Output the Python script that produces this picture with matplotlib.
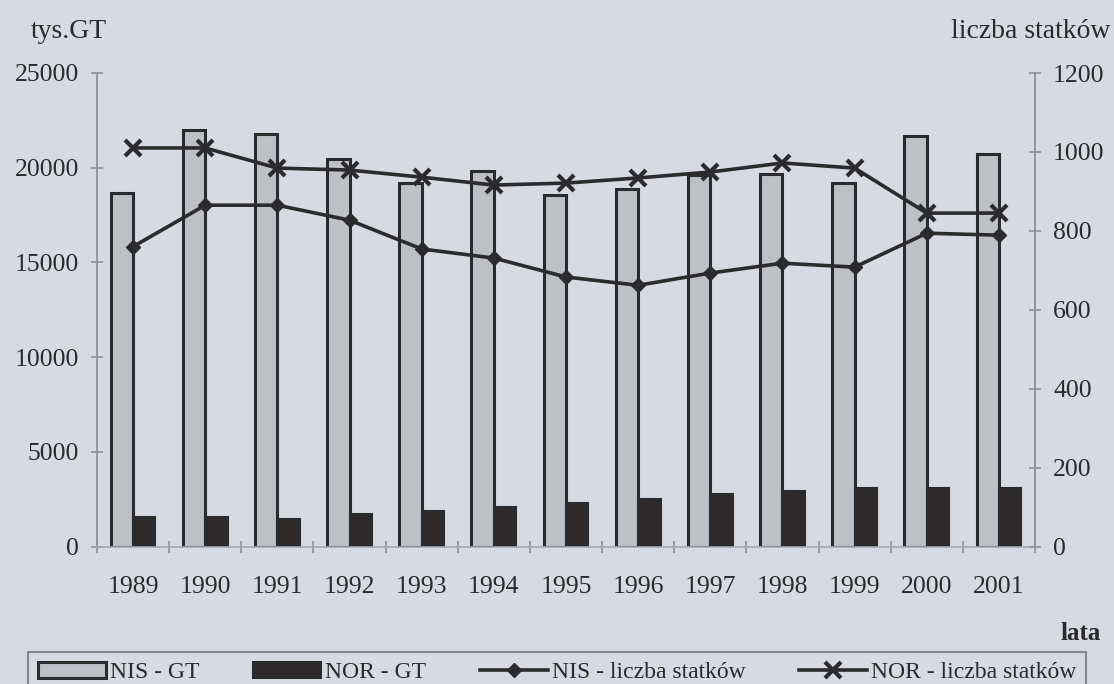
import matplotlib
matplotlib.use("Agg")
import matplotlib.pyplot as plt
import numpy as np
from matplotlib.ticker import FixedLocator

# ---- data ----
years = ["1989", "1990", "1991", "1992", "1993", "1994", "1995", "1996",
         "1997", "1998", "1999", "2000", "2001"]
nis_gt = [18650, 22000, 21800, 20450, 19200, 19800, 18550, 18900,
          19600, 19650, 19200, 21700, 20700]
nor_gt = [1550, 1550, 1450, 1700, 1900, 2100, 2300, 2500,
          2750, 2950, 3100, 3100, 3100]
nis_count = [760, 865, 865, 827, 754, 731, 683, 662, 693, 718, 708, 794, 789]
nor_count = [1010, 1010, 959, 954, 936, 916, 921, 934, 949, 972, 959, 845, 845]

left_ticks = [0, 5000, 10000, 15000, 20000, 25000]
right_ticks = [0, 200, 400, 600, 800, 1000, 1200]

labels = ["NIS - GT", "NOR - GT", "NIS - liczba statków", "NOR - liczba statków"]

# ---- style ----
BG = "#d7dbe1"
INK = "#2b2a2c"
AXC = "#8d9197"
plt.rcParams["font.family"] = ["Liberation Serif", "DejaVu Serif"]

W, H = 1114, 684
fig = plt.figure(figsize=(W / 100, H / 100), dpi=100, facecolor=BG)
ax = fig.add_axes([97 / W, 1 - 546.5 / H, (1035 - 97) / W, (546.5 - 73) / H])
ax.set_facecolor(BG)

x = np.arange(len(years))
bw = 0.31
b1 = ax.bar(x - bw / 2, nis_gt, width=bw, color="#bdc1c5", edgecolor=INK,
            linewidth=2.2, label=labels[0], zorder=2)
b2 = ax.bar(x + bw / 2, nor_gt, width=bw, color="#2e2a2b", edgecolor=INK,
            linewidth=1.5, label=labels[1], zorder=2)

ax.set_xlim(-0.5, len(years) - 0.5)
ax.set_ylim(0, 25000)
ax.set_yticks(left_ticks)
ax.set_yticklabels([str(v) for v in left_ticks])
ax.set_xticks(x)
ax.set_xticklabels(years)
ax.xaxis.set_minor_locator(FixedLocator(np.arange(-0.5, len(years), 1.0)))
ax.tick_params(axis="x", which="major", length=0, pad=21, labelsize=18.5,
               labelcolor=INK)
ax.tick_params(axis="x", which="minor", length=9, direction="inout",
               color=AXC, width=1.2)
ax.tick_params(axis="y", length=8, direction="inout", color=AXC, width=1.2,
               pad=9, labelsize=18.5, labelcolor=INK)

for s in ["top", "right"]:
    ax.spines[s].set_visible(False)
ax.spines["left"].set_color(AXC)
ax.spines["left"].set_linewidth(1.3)
ax.spines["bottom"].set_color("#a4a8ae")
ax.spines["bottom"].set_linewidth(1.2)

ax2 = ax.twinx()
ax2.patch.set_visible(False)
l1, = ax2.plot(x, nis_count, color=INK, linewidth=2.6, marker="D",
               markersize=7.5, markerfacecolor=INK, markeredgecolor=INK,
               label=labels[2], zorder=3)
l2, = ax2.plot(x, nor_count, color=INK, linewidth=2.6, marker="x",
               markersize=12, markeredgewidth=3, label=labels[3], zorder=3)
ax2.set_ylim(0, 1200)
ax2.set_yticks(right_ticks)
ax2.set_yticklabels([str(v) for v in right_ticks])
ax2.tick_params(axis="y", length=8, direction="inout", color=AXC, width=1.2,
                pad=9, labelsize=18.5, labelcolor=INK)
for s in ["top", "left", "bottom"]:
    ax2.spines[s].set_visible(False)
ax2.spines["right"].set_color(AXC)
ax2.spines["right"].set_linewidth(1.3)

# axis titles
fig.text(69 / W, 1 - 32 / H, "tys.GT", ha="center", va="center",
         fontsize=20, color=INK)
fig.text(1110 / W, 1 - 31 / H, "liczba statków", ha="right", va="center",
         fontsize=20, color=INK)
fig.text(1081 / W, 1 - 633 / H, "lata", ha="center", va="center",
         fontsize=18, fontweight="bold", color=INK)

# legend
leg = fig.legend([b1, b2, l1, l2], labels, ncol=4, loc="upper left",
                 bbox_to_anchor=(28 / W, 0, (1086 - 28) / W, 1 - 652 / H),
                 bbox_transform=fig.transFigure, mode="expand",
                 borderaxespad=0, fontsize=17, frameon=True, fancybox=False,
                 handlelength=2.9, handletextpad=0.15, borderpad=0.42,
                 labelcolor=INK)
fr = leg.get_frame()
fr.set_facecolor(BG)
fr.set_edgecolor("#6f7379")
fr.set_linewidth(1.5)

fig.savefig("out.png", dpi=100, facecolor=BG)
